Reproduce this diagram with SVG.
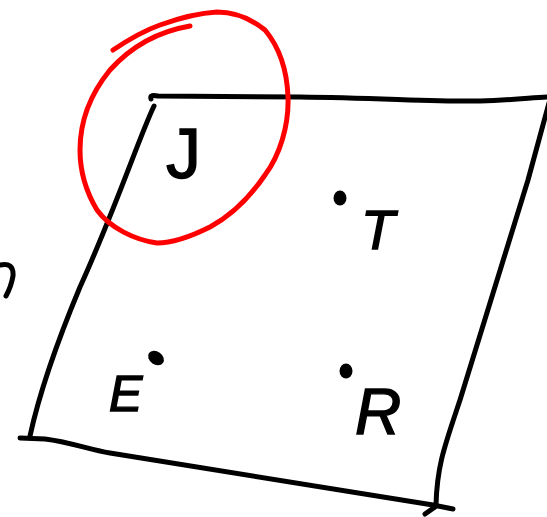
<svg xmlns="http://www.w3.org/2000/svg" width="547" height="517" viewBox="0 0 547 517">
<style>
.ink{fill:none;stroke:#000;stroke-width:5;stroke-linecap:round;stroke-linejoin:round}
.red{fill:none;stroke:#f00;stroke-width:5;stroke-linecap:round;stroke-linejoin:round}
.lbl{font-family:"Liberation Sans",Arial,sans-serif;fill:#000;stroke:#000;stroke-width:1.4}
.dot{fill:#000}
</style>
<rect width="547" height="517" fill="#fff"/>
<g id="edges">
<path class="ink" d="M151,99 C150,95 153,95 158,96 L300,97 C380,98 440,102 480,101 C510,100 530,98 549,97"/>
<path class="ink" d="M154,106 C140,135 115,210 80,287 C60,335 40,390 30,436"/>
<path class="ink" d="M20,438 L45,439 C70,442 90,450 110,453 L433,505 L453,509"/>
<path class="ink" d="M425,514 L435,507"/>
<path class="ink" d="M549,103 L528,180 L460,400 C445,445 437,465 436,505"/>
<path class="ink" d="M0,265 Q14,262 13,276 Q11,287 6,296"/>
</g>
<g id="circle">
<path class="red" d="M113,50 C125,42 140,32 160,25 C185,16 200,13 217,12 C235,12 250,18 265,30 C280,48 287,70 288,97 C289,125 280,155 265,175 C250,197 232,215 210,227 C190,237 170,243 157,243 C135,240 110,228 97,210 C85,190 80,170 80,150 C80,120 92,92 110,70 C128,50 155,32 190,26"/>
</g>
<g id="node-J"><text class="lbl" x="166" y="178" font-size="70">J</text></g>
<g id="node-T"><ellipse class="dot" cx="340" cy="198" rx="6.5" ry="7.5"/><text class="lbl" x="361" y="249" font-size="55" font-style="italic">T</text></g>
<g id="node-E"><ellipse class="dot" cx="156" cy="358" rx="8.5" ry="6.5" transform="rotate(35 156 358)"/><text class="lbl" x="109" y="411" font-size="50" font-style="italic">E</text></g>
<g id="node-R"><ellipse class="dot" cx="346" cy="371" rx="6.5" ry="7.5"/><text class="lbl" x="355" y="434" font-size="64" font-style="italic">R</text></g>
</svg>
